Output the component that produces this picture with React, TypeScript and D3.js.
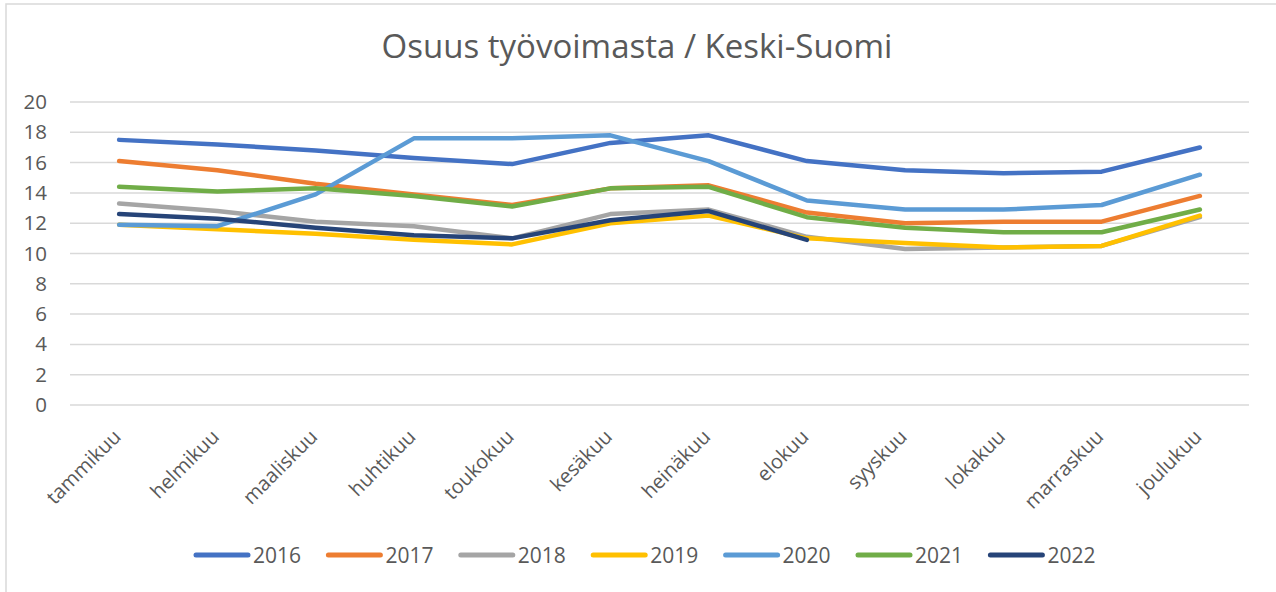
import React, { useEffect, useRef } from 'react';
import * as d3 from 'd3';

const months = ['tammikuu', 'helmikuu', 'maaliskuu', 'huhtikuu', 'toukokuu', 'kesäkuu',
    'heinäkuu', 'elokuu', 'syyskuu', 'lokakuu', 'marraskuu', 'joulukuu'];

const years = ['2016', '2017', '2018', '2019', '2020', '2021', '2022'];

const v2016 = [17.5, 17.2, 16.8, 16.3, 15.9, 17.3, 17.8, 16.1, 15.5, 15.3, 15.4, 17.0];
const v2017 = [16.1, 15.5, 14.6, 13.9, 13.2, 14.3, 14.5, 12.7, 12.0, 12.1, 12.1, 13.8];
const v2018 = [13.3, 12.8, 12.1, 11.8, 11.0, 12.6, 12.9, 11.1, 10.3, 10.4, 10.5, 12.4];
const v2019 = [11.9, 11.6, 11.3, 10.9, 10.6, 12.0, 12.5, 11.0, 10.7, 10.4, 10.5, 12.5];
const v2020 = [11.9, 11.8, 13.9, 17.6, 17.6, 17.8, 16.1, 13.5, 12.9, 12.9, 13.2, 15.2];
const v2021 = [14.4, 14.1, 14.3, 13.8, 13.1, 14.3, 14.4, 12.4, 11.7, 11.4, 11.4, 12.9];
const v2022 = [12.6, 12.3, 11.7, 11.2, 11.0, 12.2, 12.8, 10.9, null, null, null, null];

const yTicks = [0, 2, 4, 6, 8, 10, 12, 14, 16, 18, 20];

const colors = ['#4472C4', '#ED7D31', '#A5A5A5', '#FFC000', '#5B9BD5', '#70AD47', '#264478'];

const W = 1276;
const H = 592;
const FONT = '"Open Sans", "Liberation Sans", sans-serif';
const TEXT = '#595959';

export default function App() {
    const ref = useRef<SVGSVGElement>(null);

    useEffect(() => {
        const svg = d3.select(ref.current);
        svg.selectAll('*').remove();

        const series = [v2016, v2017, v2018, v2019, v2020, v2021, v2022].map((vals, i) => ({
            name: years[i],
            color: colors[i],
            values: vals
        }));

        const x = d3.scalePoint<string>().domain(months).range([70, 1249]).padding(0.5);
        const y = d3.scaleLinear().domain([0, 20]).range([405, 102]);

        // outer frame, only top and left edges are inside the picture
        svg.append('rect')
            .attr('x', 6).attr('y', 4)
            .attr('width', W + 20).attr('height', H + 20)
            .attr('fill', 'white')
            .attr('stroke', '#d9d9d9')
            .attr('stroke-width', 1.5);

        svg.append('text')
            .attr('x', 637).attr('y', 58)
            .attr('text-anchor', 'middle')
            .attr('font-family', FONT)
            .attr('font-size', 33)
            .attr('fill', TEXT)
            .text('Osuus työvoimasta / Keski-Suomi');

        const grid = svg.append('g');
        grid.selectAll('line').data(yTicks).enter()
            .append('line')
            .attr('x1', 70).attr('x2', 1249)
            .attr('y1', d => y(d)).attr('y2', d => y(d))
            .attr('stroke', '#d9d9d9')
            .attr('stroke-width', 1.5);

        grid.selectAll('text').data(yTicks).enter()
            .append('text')
            .attr('x', 47)
            .attr('y', d => y(d) + 7)
            .attr('text-anchor', 'end')
            .attr('font-family', FONT)
            .attr('font-size', 20.5)
            .attr('fill', TEXT)
            .text(d => d);

        svg.append('g').selectAll('text').data(months).enter()
            .append('text')
            .attr('transform', d => `translate(${x(d)! + 3},438) rotate(-45)`)
            .attr('text-anchor', 'end')
            .attr('font-family', FONT)
            .attr('font-size', 20)
            .attr('fill', TEXT)
            .text(d => d);

        const line = d3.line<number | null>()
            .defined(d => d != null)
            .x((d, i) => x(months[i])!)
            .y(d => y(d as number));

        svg.append('g').selectAll('path').data(series).enter()
            .append('path')
            .attr('d', d => line(d.values))
            .attr('fill', 'none')
            .attr('stroke', d => d.color)
            .attr('stroke-width', 4.5)
            .attr('stroke-linecap', 'round')
            .attr('stroke-linejoin', 'round');

        const legend = svg.append('g').selectAll('g').data(series).enter()
            .append('g')
            .attr('transform', (d, i) => `translate(${196 + i * 132.4},555)`);
        legend.append('line')
            .attr('x1', 0).attr('x2', 52)
            .attr('stroke', d => d.color)
            .attr('stroke-width', 5)
            .attr('stroke-linecap', 'round');
        legend.append('text')
            .attr('x', 57).attr('y', 7.5)
            .attr('font-family', FONT)
            .attr('font-size', 21)
            .attr('fill', TEXT)
            .text(d => d.name);
    }, []);

    return (
        <svg
            ref={ref}
            width={W}
            height={H}
            style={{ position: 'absolute', left: 0, top: 0, background: 'white' }}
        />
    );
}
